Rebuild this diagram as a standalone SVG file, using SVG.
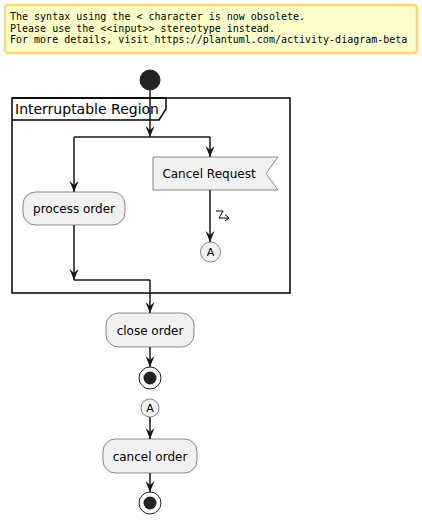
<svg xmlns="http://www.w3.org/2000/svg" width="422" height="525" viewBox="0 0 422 525">
<style>
.line{fill:none;stroke:#181818;stroke-width:1.5;}
.node{fill:#F1F1F1;stroke:#181818;stroke-width:0.5;}
.txt{font-family:"DejaVu Sans",sans-serif;font-size:12px;fill:#000;text-anchor:middle;}
.mono{font-family:"DejaVu Sans Mono",monospace;font-size:10px;fill:#000;}
</style>
<defs>
<marker id="arr" viewBox="0 0 11 11" refX="11" refY="5.5" markerWidth="11" markerHeight="11" markerUnits="userSpaceOnUse" orient="auto">
<polygon points="0,1 11,5.5 0,10 4,5.5" fill="#181818"/>
</marker>
</defs>
<rect width="422" height="525" fill="#FFFFFF"/>
<g id="note">
<rect x="5" y="5" width="412" height="48" rx="3" fill="#FFFFCC" stroke="#FFD67A" stroke-width="2.5"/>
<text class="mono" x="10" y="20">The syntax using the &lt; character is now obsolete.</text>
<text class="mono" x="10" y="31.5">Please use the &lt;&lt;input&gt;&gt; stereotype instead.</text>
<text class="mono" x="10" y="43">For more details, visit https://plantuml.com/activity-diagram-beta</text>
</g>
<g id="region">
<rect x="12" y="98" width="278" height="195" fill="none" stroke="#000" stroke-width="1.5"/>
<path d="M12,98 H166 V109 L159,120 H12" fill="none" stroke="#000" stroke-width="1.5"/>
<text x="15" y="114" font-family="DejaVu Sans,sans-serif" font-size="14" fill="#000">Interruptable Region</text>
</g>
<g id="connectors">
<path class="line" d="M150,90 V137" marker-end="url(#arr)"/>
<path class="line" d="M74,137 H210"/>
<path class="line" d="M74,137 V192" marker-end="url(#arr)"/>
<path class="line" d="M210,137 V157" marker-end="url(#arr)"/>
<path class="line" d="M210,190 V242" marker-end="url(#arr)"/>
<path class="line" d="M74,225 V280" marker-end="url(#arr)"/>
<path class="line" d="M74,280 H150"/>
<path class="line" d="M150,280 V313" marker-end="url(#arr)"/>
<path class="line" d="M150,347 V367" marker-end="url(#arr)"/>
<path class="line" d="M150,417 V439" marker-end="url(#arr)"/>
<path class="line" d="M150,473 V492" marker-end="url(#arr)"/>
<path d="M216,211 H223 L219,218 H229 M225,214.5 L229,218 L225,221" fill="none" stroke="#000" stroke-width="1"/>
</g>
<g id="start">
<circle cx="150" cy="80" r="10" fill="#222222" stroke="#222222"/>
</g>
<g id="cancelRequest">
<polygon class="node" points="153,157 278,157 266,173.5 278,190 153,190"/>
<text class="txt" x="209" y="178">Cancel Request</text>
</g>
<g id="processOrder">
<rect class="node" x="23" y="192" width="102" height="33" rx="12.5"/>
<text class="txt" x="74" y="213">process order</text>
</g>
<g id="connectorA1">
<circle class="node" cx="210.5" cy="252" r="10"/>
<text x="210.5" y="256" font-family="DejaVu Sans,sans-serif" font-size="11" text-anchor="middle" fill="#000">A</text>
</g>
<g id="closeOrder">
<rect class="node" x="106" y="313" width="88" height="34" rx="12.5"/>
<text class="txt" x="150" y="334.5">close order</text>
</g>
<g id="stop1">
<circle cx="150" cy="378" r="11" fill="none" stroke="#222222" stroke-width="1"/>
<circle cx="150" cy="378" r="6.5" fill="#222222"/>
</g>
<g id="connectorA2">
<circle class="node" cx="150" cy="408" r="9"/>
<text x="150" y="412" font-family="DejaVu Sans,sans-serif" font-size="11" text-anchor="middle" fill="#000">A</text>
</g>
<g id="cancelOrder">
<rect class="node" x="103" y="439" width="94" height="34" rx="12.5"/>
<text class="txt" x="150" y="460.5">cancel order</text>
</g>
<g id="stop2">
<circle cx="150" cy="503" r="11" fill="none" stroke="#222222" stroke-width="1"/>
<circle cx="150" cy="503" r="6.5" fill="#222222"/>
</g>
</svg>
